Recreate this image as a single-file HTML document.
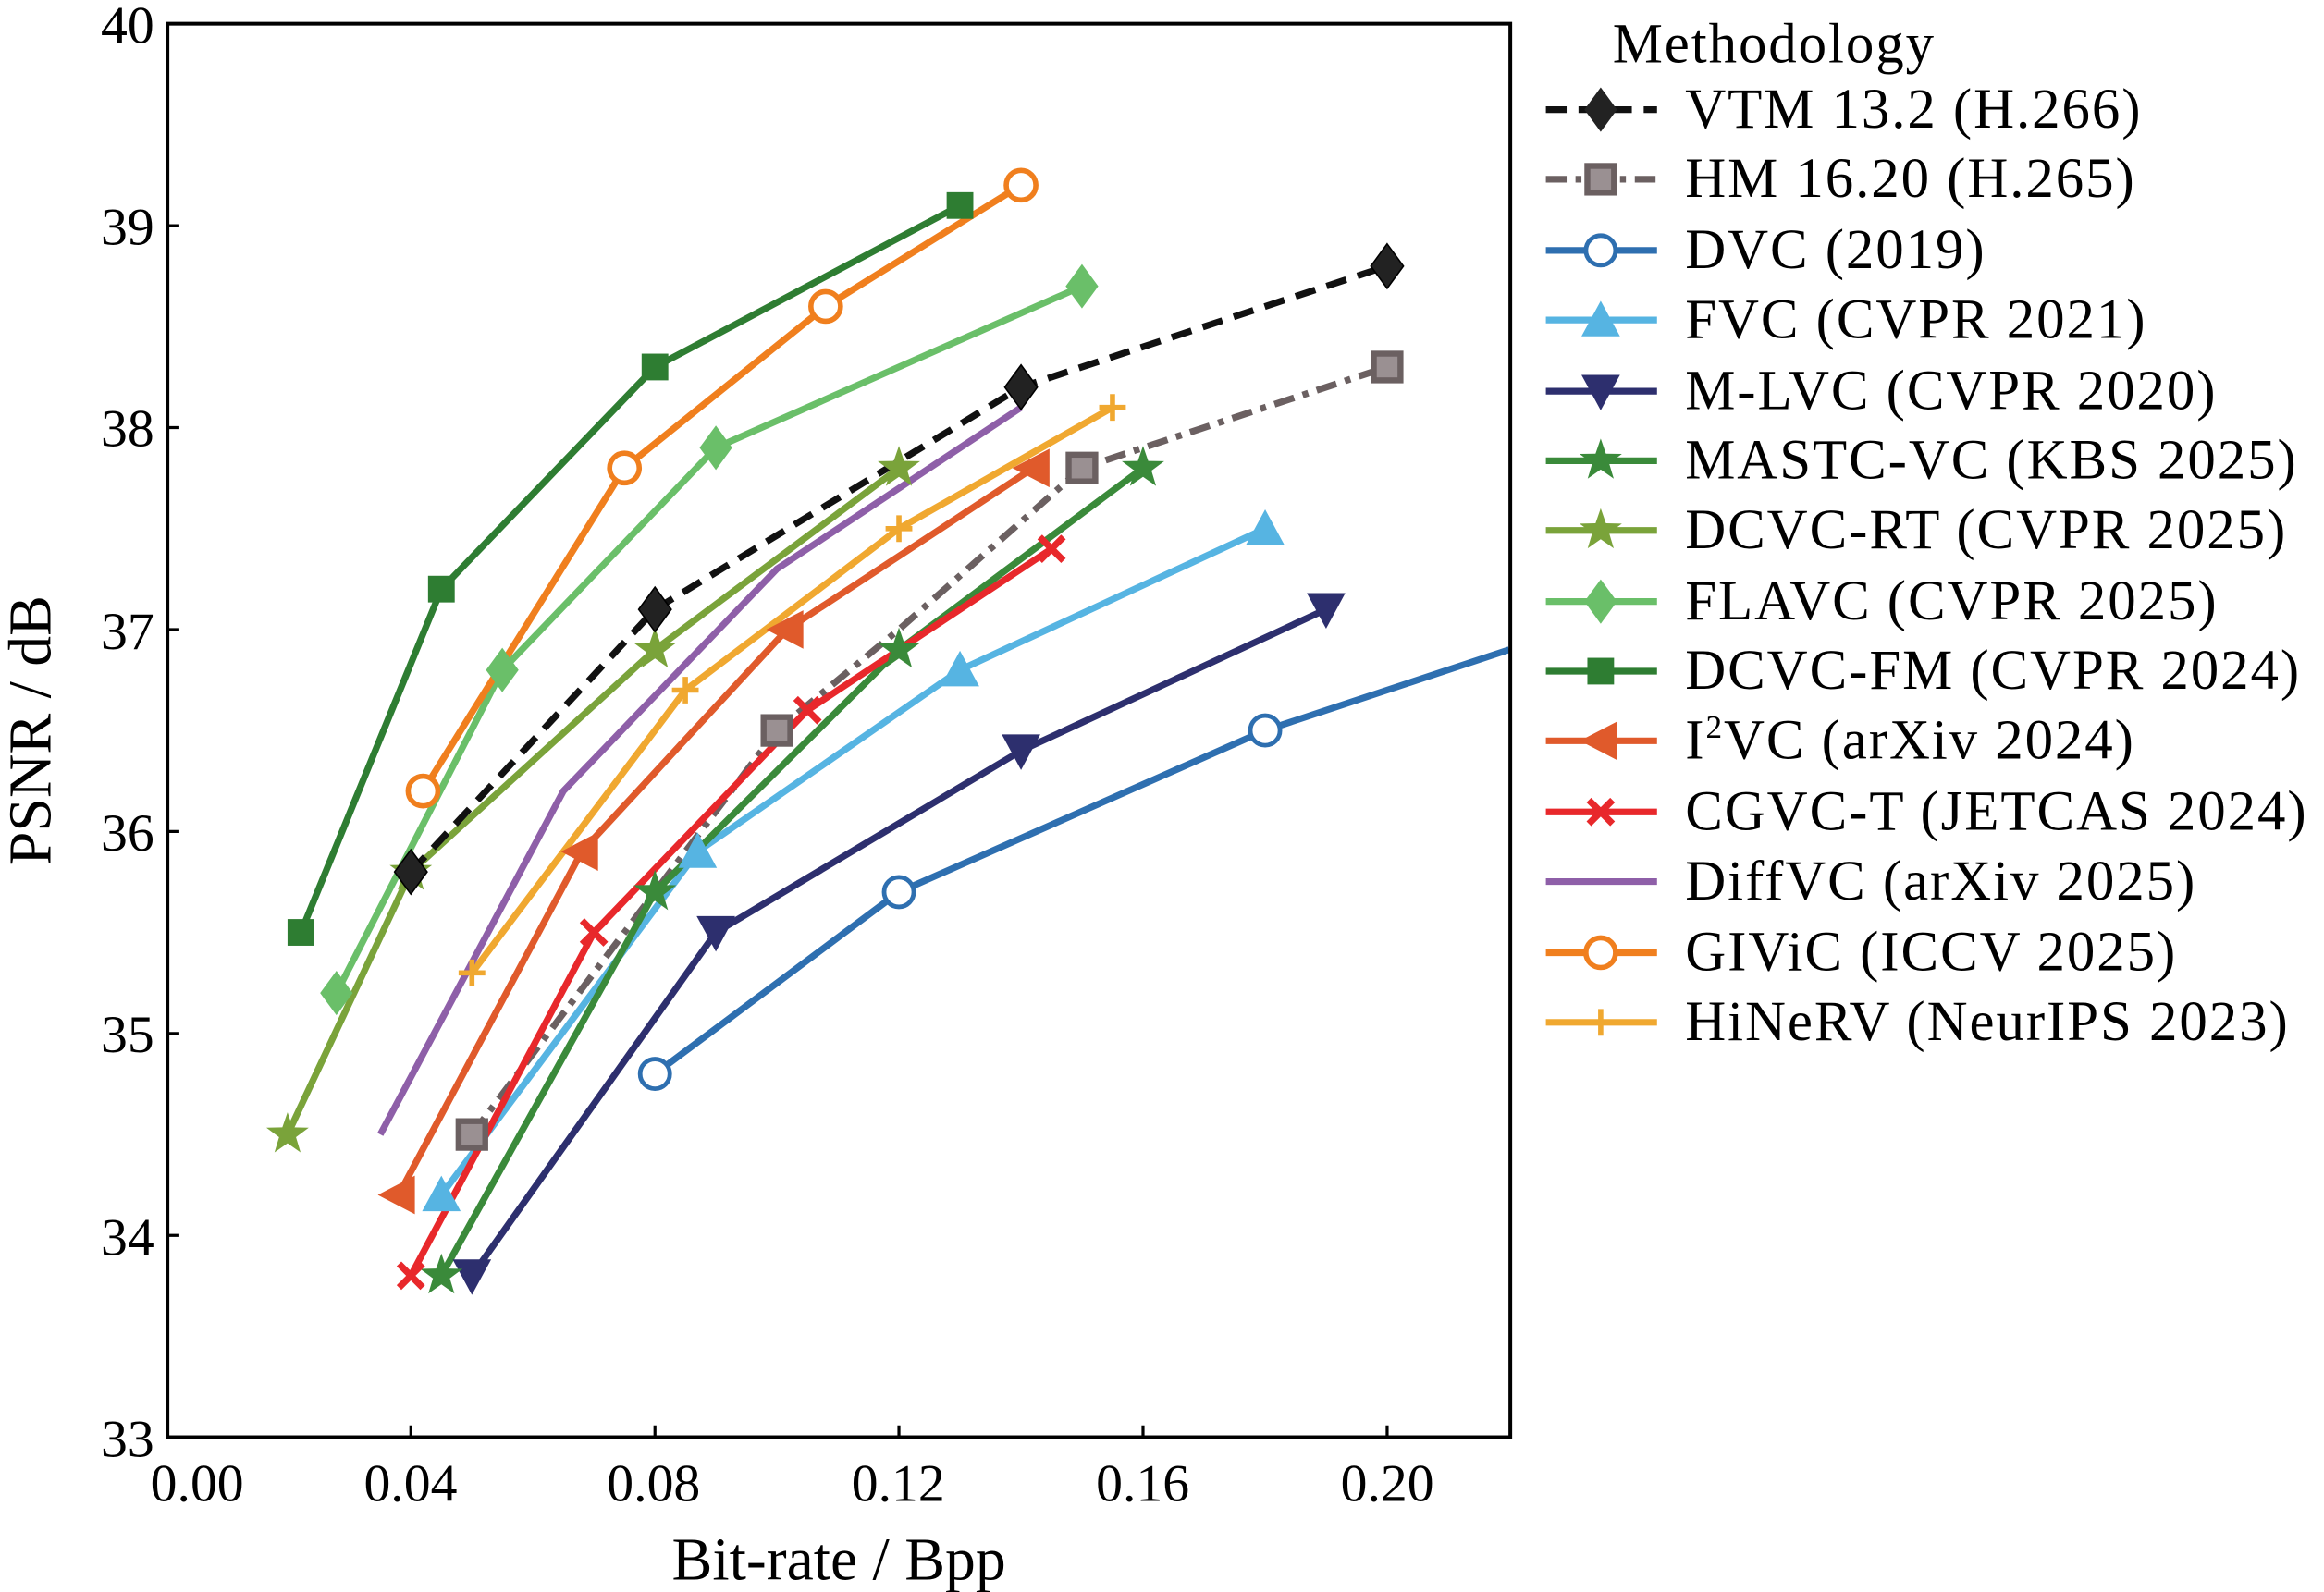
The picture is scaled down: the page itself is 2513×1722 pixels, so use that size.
<!DOCTYPE html>
<html><head><meta charset="utf-8"><style>html,body{margin:0;padding:0;background:#fff}svg{display:block}</style></head><body>
<svg width="2513" height="1722" viewBox="0 0 1568 1074.5" preserveAspectRatio="none" xmlns="http://www.w3.org/2000/svg" font-family="Liberation Serif, serif">
<defs>
<path id="dia" d="M0,-15 L11,0 L0,15 L-11,0Z"/>
<rect id="sq" x="-9" y="-9" width="18" height="18"/>
<circle id="oc" r="10"/>
<path id="tu" d="M0,-13 L13,11 L-13,11Z"/>
<path id="td" d="M0,13 L13,-11 L-13,-11Z"/>
<path id="tl" d="M-14,0 L11,-13 L11,13Z"/>
<path id="st" d="M0,-15 L3.5,-4.8 L14.3,-4.6 L5.7,1.8 L8.8,12.1 L0,5.9 L-8.8,12.1 L-5.7,1.8 L-14.3,-4.6 L-3.5,-4.8Z"/>
<path id="xx" d="M-8,-8 L8,8 M8,-8 L-8,8" stroke-width="4.5" fill="none"/>
<path id="pl" d="M-9,0 L9,0 M0,-9 L0,9" stroke-width="3.5" fill="none"/>
</defs>
<g fill="none" stroke-width="4.5" stroke-linejoin="round">
<polyline stroke="#2e6fb0" points="441.9,724.8 606.5,602.1 853.6,493 1018.2,438.5"/>
<polyline stroke="#2d2f6e" points="318.4,861 483,629.3 688.9,506.7 894.7,411.3"/>
<polyline stroke="#56b4e2" points="297.8,806.5 470.7,574.8 647.7,452.2 853.6,356.8"/>
<polyline stroke="#6b6061" stroke-dasharray="14,6,4,6" points="318.4,765.7 524.2,493 606.5,424.9 730,315.9 935.9,247.7"/>
<polyline stroke="#3a8a3a" points="297.8,861 441.9,602.1 606.5,438.5 771.2,315.9"/>
<polyline stroke="#e8282b" points="277.2,861 400.7,629.3 544.8,479.4 709.5,370.4"/>
<polyline stroke="#e05a2b" points="268.9,806.5 392.5,574.8 531,424.9 697.1,315.9"/>
<polyline stroke="#f0a830" points="318.4,656.6 462.4,465.8 606.5,356.8 750.6,275"/>
<polyline stroke="#8e5fa8" points="256.6,765.7 380.1,533.9 524.2,384 688.9,275"/>
<polyline stroke="#7aa33a" points="194,765.7 277.2,588.5 441.9,438.5 606.5,315.9"/>
<polyline stroke="#111" stroke-dasharray="14,8" points="277.2,588.5 441.9,411.3 688.9,261.3 935.9,179.6"/>
<polyline stroke="#6abf69" points="227,670.2 338.9,452.2 483,302.2 730,193.2"/>
<polyline stroke="#2e7d32" points="203,629.3 297.8,397.6 441.9,247.7 647.7,138.7"/>
<polyline stroke="#f07f1e" points="285.4,533.9 421.3,315.9 557.1,206.8 688.9,125"/>
</g>
<g fill="#fff" stroke="#2e6fb0" stroke-width="3"><use href="#oc" x="441.9" y="724.8"/><use href="#oc" x="606.5" y="602.1"/><use href="#oc" x="853.6" y="493"/></g>
<g fill="#2d2f6e"><use href="#td" x="318.4" y="861"/><use href="#td" x="483" y="629.3"/><use href="#td" x="688.9" y="506.7"/><use href="#td" x="894.7" y="411.3"/></g>
<g fill="#56b4e2"><use href="#tu" x="297.8" y="806.5"/><use href="#tu" x="470.7" y="574.8"/><use href="#tu" x="647.7" y="452.2"/><use href="#tu" x="853.6" y="356.8"/></g>
<g fill="#9a9092" stroke="#6b6061" stroke-width="4"><use href="#sq" x="318.4" y="765.7"/><use href="#sq" x="524.2" y="493"/><use href="#sq" x="730" y="315.9"/><use href="#sq" x="935.9" y="247.7"/></g>
<g fill="#3a8a3a"><use href="#st" x="297.8" y="861"/><use href="#st" x="441.9" y="602.1"/><use href="#st" x="606.5" y="438.5"/><use href="#st" x="771.2" y="315.9"/></g>
<g stroke="#e8282b"><use href="#xx" x="277.2" y="861"/><use href="#xx" x="400.7" y="629.3"/><use href="#xx" x="544.8" y="479.4"/><use href="#xx" x="709.5" y="370.4"/></g>
<g fill="#e05a2b"><use href="#tl" x="268.9" y="806.5"/><use href="#tl" x="392.5" y="574.8"/><use href="#tl" x="531" y="424.9"/><use href="#tl" x="697.1" y="315.9"/></g>
<g stroke="#f0a830"><use href="#pl" x="318.4" y="656.6"/><use href="#pl" x="462.4" y="465.8"/><use href="#pl" x="606.5" y="356.8"/><use href="#pl" x="750.6" y="275"/></g>
<g fill="#7aa33a"><use href="#st" x="194" y="765.7"/><use href="#st" x="277.2" y="588.5"/><use href="#st" x="441.9" y="438.5"/><use href="#st" x="606.5" y="315.9"/></g>
<g fill="#222" stroke="#000" stroke-width="1"><use href="#dia" x="277.2" y="588.5"/><use href="#dia" x="441.9" y="411.3"/><use href="#dia" x="688.9" y="261.3"/><use href="#dia" x="935.9" y="179.6"/></g>
<g fill="#6abf69"><use href="#dia" x="227" y="670.2"/><use href="#dia" x="338.9" y="452.2"/><use href="#dia" x="483" y="302.2"/><use href="#dia" x="730" y="193.2"/></g>
<g fill="#2e7d32"><use href="#sq" x="203" y="629.3"/><use href="#sq" x="297.8" y="397.6"/><use href="#sq" x="441.9" y="247.7"/><use href="#sq" x="647.7" y="138.7"/></g>
<g fill="#fff" stroke="#f07f1e" stroke-width="3.5"><use href="#oc" x="285.4" y="533.9"/><use href="#oc" x="421.3" y="315.9"/><use href="#oc" x="557.1" y="206.8"/><use href="#oc" x="688.9" y="125"/></g>
<rect x="113" y="16" width="906" height="954" fill="none" stroke="#000" stroke-width="2.5"/>
<g stroke="#000" stroke-width="2">
<path d="M277.2,970v-8M441.9,970v-8M606.5,970v-8M771.2,970v-8M935.9,970v-8"/>
<path d="M113,152.3h8M113,288.6h8M113,424.9h8M113,561.2h8M113,697.5h8M113,833.8h8"/>
</g>
<g font-size="36" fill="#000">
<g text-anchor="end"><text x="104" y="29">40</text><text x="104" y="165">39</text><text x="104" y="301">38</text><text x="104" y="438">37</text><text x="104" y="574">36</text><text x="104" y="710">35</text><text x="104" y="847">34</text><text x="104" y="983">33</text></g>
<g text-anchor="middle"><text x="133" y="1013">0.00</text><text x="277" y="1013">0.04</text><text x="441" y="1013">0.08</text><text x="606" y="1013">0.12</text><text x="771" y="1013">0.16</text><text x="936" y="1013">0.20</text></g>
<text x="566" y="1066" text-anchor="middle" font-size="41">Bit-rate / Bpp</text>
<text transform="translate(34,493) rotate(-90)" text-anchor="middle" font-size="41">PSNR / dB</text>
</g>
<g font-size="38" fill="#000" letter-spacing="1.2">
<text x="1088" y="42">Methodology</text>
<text x="1137" y="86">VTM 13.2 (H.266)</text>
<text x="1137" y="133">HM 16.20 (H.265)</text>
<text x="1137" y="181">DVC (2019)</text>
<text x="1137" y="228">FVC (CVPR 2021)</text>
<text x="1137" y="276">M-LVC (CVPR 2020)</text>
<text x="1137" y="323">MASTC-VC (KBS 2025)</text>
<text x="1137" y="370">DCVC-RT (CVPR 2025)</text>
<text x="1137" y="418">FLAVC (CVPR 2025)</text>
<text x="1137" y="465">DCVC-FM (CVPR 2024)</text>
<text x="1137" y="512">I<tspan font-size="22" dy="-14">2</tspan><tspan dy="14">VC (arXiv 2024)</tspan></text>
<text x="1137" y="560">CGVC-T (JETCAS 2024)</text>
<text x="1137" y="607">DiffVC (arXiv 2025)</text>
<text x="1137" y="655">GIViC (ICCV 2025)</text>
<text x="1137" y="702">HiNeRV (NeurIPS 2023)</text>
</g>
<g fill="none" stroke-width="4.5">
<path d="M1043,74H1118" stroke="#111" stroke-dasharray="14,8"/>
<path d="M1043,121H1118" stroke="#6b6061" stroke-dasharray="14,6,4,6"/>
<path d="M1043,169H1118" stroke="#2e6fb0"/>
<path d="M1043,216H1118" stroke="#56b4e2"/>
<path d="M1043,264H1118" stroke="#2d2f6e"/>
<path d="M1043,311H1118" stroke="#3a8a3a"/>
<path d="M1043,358H1118" stroke="#7aa33a"/>
<path d="M1043,406H1118" stroke="#6abf69"/>
<path d="M1043,453H1118" stroke="#2e7d32"/>
<path d="M1043,500H1118" stroke="#e05a2b"/>
<path d="M1043,548H1118" stroke="#e8282b"/>
<path d="M1043,595H1118" stroke="#8e5fa8"/>
<path d="M1043,643H1118" stroke="#f07f1e"/>
<path d="M1043,690H1118" stroke="#f0a830"/>
</g>
<use href="#dia" x="1080" y="74" fill="#222"/>
<use href="#sq" x="1080" y="121" fill="#9a9092" stroke="#6b6061" stroke-width="4"/>
<use href="#oc" x="1080" y="169" fill="#fff" stroke="#2e6fb0" stroke-width="3"/>
<use href="#tu" x="1080" y="216" fill="#56b4e2"/>
<use href="#td" x="1080" y="264" fill="#2d2f6e"/>
<use href="#st" x="1080" y="311" fill="#3a8a3a"/>
<use href="#st" x="1080" y="358" fill="#7aa33a"/>
<use href="#dia" x="1080" y="406" fill="#6abf69"/>
<use href="#sq" x="1080" y="453" fill="#2e7d32"/>
<use href="#tl" x="1080" y="500" fill="#e05a2b"/>
<use href="#xx" x="1080" y="548" stroke="#e8282b"/>
<use href="#oc" x="1080" y="643" fill="#fff" stroke="#f07f1e" stroke-width="3.5"/>
<use href="#pl" x="1080" y="690" stroke="#f0a830"/>
</svg>
</body></html>
